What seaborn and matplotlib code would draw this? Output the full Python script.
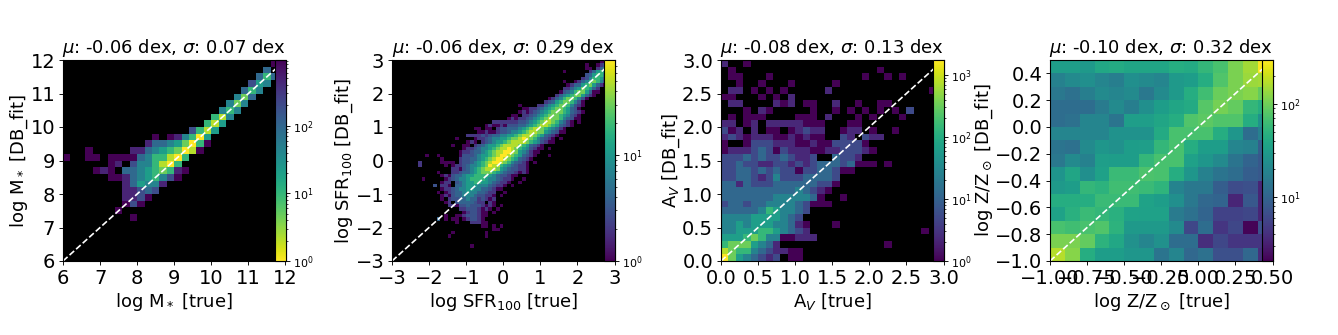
import pandas as pd
import matplotlib
matplotlib.use("Agg")
import matplotlib.pyplot as plt
import matplotlib.cm as cm
from matplotlib.colors import LogNorm
import seaborn as sns

# Cells: (row from bottom, first column, colour level per cell)
MASS_LEVELS = [1, 2, 5, 10, 21, 44, 95, 200, 430, 930]
MASS_CELLS = [
    (29, 28, "0"), (28, 27, "3"), (27, 26, "363"), (26, 25, "254"), (25, 24, "364"),
    (24, 23, "473"), (23, 22, "474"), (22, 21, "464"), (21, 20, "684"), (20, 19, "685"),
    (19, 17, "2685"), (18, 12, "0.014695"), (17, 11, "133457960"),
    (16, 3, "0.....1134567980"), (15, 0, "0..00.00003466896"),
    (14, 6, "01.2446896"), (13, 4, "010.334567610"), (12, 6, "0013456420"),
    (11, 8, "135441"), (10, 8, "11232"), (9, 8, "1120"), (8, 8, "020"),
    (7, 7, "0"), (6, 9, "0"),
]

SFR_LEVELS = [1, 2, 3, 4, 7, 11, 18, 30, 48, 79]
SFR_CELLS = [
    (59, 56, "00"), (58, 52, "0..012"), (57, 52, "00.134"), (56, 46, "0......13565"),
    (55, 52, "235664"), (54, 51, "1246653"), (53, 46, "0..013467642"),
    (52, 47, "01335675310"), (51, 46, "1134576531"), (50, 45, "02346775300"),
    (49, 44, "13456775310"), (48, 42, "01346776420"), (47, 41, "12356776420"),
    (46, 34, "0....1134567764210"), (45, 35, "0011234567765320"),
    (44, 34, "010123456777653210"), (43, 32, "00.1123456777654210"),
    (42, 31, "01011234567877643200"), (41, 27, "1111111223456788764310.0"),
    (40, 25, "010010222334567887653210"), (39, 22, "00.00.1223334567887654310"),
    (38, 23, "001001223445678877543200"), (37, 20, "1111212334455678887653210"),
    (36, 17, "0....0112344556778987643210.0"), (35, 20, "010.12345567888876542100"),
    (34, 16, "0..00.1234556788887653210"), (33, 19, "0112344567889876542100.0"),
    (32, 18, "0112334567889987543100"), (31, 9, "0..0.....0222345567899876532" + "10...0"),
    (30, 13, "0....1223345678998765321" + "0"), (29, 7, "1.....0000.1223456789987643210.0"),
    (28, 7, "1......0.011234456798865432110"), (27, 16, "110234567888754322110"),
    (26, 12, "0...112334567776543221010"), (25, 13, "010233455666654322100"),
    (24, 8, "0.....0123445666654432110..0"), (23, 13, "011.234556655432110..0"),
    (22, 11, "2.110.33455544432110.0"), (21, 13, "01123445544332100"),
    (20, 12, "0.01233454433211..0"), (19, 13, "010233444322110.0"),
    (18, 13, "0.1223343312101"), (17, 14, "01.23333211.10"),
    (16, 15, "1102232221010.0"), (15, 18, "112221010.0"), (14, 19, "0122100.0"),
    (13, 14, "0..001222100"), (12, 12, "3.0.00.012210"), (11, 17, "0...11100"),
    (10, 24, "00.0.0"), (9, 27, "00"), (8, 16, "0........0"), (7, 15, "0.........0"),
    (4, 21, "0"),
]

AV_LEVELS = [1, 2.3, 5.3, 12, 28, 63, 145, 330, 770, 1750]
AV_CELLS = [
    (29, 0, "1..0"), (28, 1, "0"), (28, 21, "0"), (27, 1, "00"), (27, 6, "0"), (27, 19, "0"),
    (27, 22, "0.0"), (26, 2, "0..0...0"), (26, 15, "0"), (25, 1, "11.0.0.0"), (25, 14, "1"),
    (25, 28, "0"), (24, 0, "00...0.0.1"), (23, 1, "11....101"), (23, 11, "00"), (23, 15, "1"),
    (23, 18, "0"), (23, 21, "00"), (22, 3, "0.10"), (22, 12, "0..0.0.0.0.0.2"),
    (21, 1, "0.000"), (21, 10, "000.1"), (21, 18, "0.0"), (21, 24, "0"),
    (20, 0, "11.01.11111000"), (20, 17, "00"),
    (19, 0, "201.1.00.01211"), (19, 16, "011.0"), (19, 23, "0"),
    (18, 0, "12101110010100"), (18, 16, "21.211"),
    (17, 0, "0..0222111001002222" + "0"), (16, 0, "011123202111001122210"),
    (15, 0, "2223232232112"), (15, 15, "3221"),
    (14, 0, "223221122121233323000.0"), (13, 0, "223323232202233200"),
    (12, 0, "2233212422233332"), (11, 0, "3313222333333220"),
    (10, 0, "333333333343210"), (9, 0, "33333334444430..0"),
    (8, 0, "233233444432000"), (7, 0, "333334654432"),
    (6, 0, "44445555432"), (5, 0, "445455544310...0"),
    (4, 0, "445556654321"), (4, 27, "0"), (3, 0, "5556764400111"),
    (2, 0, "67775431"), (2, 22, "0"), (1, 0, "87664321100"), (0, 0, "97543212.00"),
]

# log Z counts, top row first
ZMET_COUNTS = [
    [33, 33, 30, 40, 42, 38, 38, 38, 45, 42, 55, 70, 110, 150, 280],
    [18, 22, 24, 20, 17, 24, 22, 20, 30, 32, 45, 75, 110, 140, 150],
    [15, 13, 17, 22, 20, 22, 15, 22, 30, 45, 65, 95, 110, 120, 90],
    [12, 12, 12, 16, 22, 17, 24, 32, 38, 42, 80, 105, 90, 55, 45],
    [12, 13, 20, 20, 14, 33, 33, 38, 45, 75, 85, 75, 75, 45, 25],
    [20, 20, 20, 20, 26, 26, 26, 42, 70, 70, 70, 45, 28, 12, 18],
    [14, 13, 22, 28, 25, 32, 33, 55, 70, 45, 32, 32, 20, 18, 9],
    [15, 22, 18, 33, 32, 32, 55, 70, 70, 35, 28, 22, 14, 10, 8],
    [27, 38, 24, 35, 60, 60, 72, 70, 45, 28, 18, 14, 12, 9, 8],
    [30, 32, 55, 50, 65, 65, 60, 52, 19, 15, 15, 9, 6.5, 7, 3.5],
    [45, 45, 45, 60, 60, 60, 36, 32, 24, 15, 11, 10, 3.5, 8, 3.5],
    [36, 48, 60, 55, 48, 36, 35, 35, 16, 13, 10, 5.5, 5.5, 6, 3.5],
    [70, 65, 70, 75, 50, 30, 30, 30, 22, 6, 12, 4.5, 6, 2.2, 7],
    [110, 110, 90, 50, 40, 25, 20, 25, 12, 12, 4, 6, 4.5, 4.5, 4.5],
    [170, 120, 45, 32, 32, 28, 28, 14, 20, 11, 13, 7, 7, 11, 4],
]

TITLES = [
    r"$\mu$: -0.06 dex, $\sigma$: 0.07 dex",
    r"$\mu$: -0.06 dex, $\sigma$: 0.29 dex",
    r"$\mu$: -0.08 dex, $\sigma$: 0.13 dex",
    r"$\mu$: -0.10 dex, $\sigma$: 0.32 dex",
]
X_LABELS = [r"log M$_*$ [true]", r"log SFR$_{100}$ [true]", r"A$_V$ [true]", r"log Z/Z$_\odot$ [true]"]
Y_LABELS = [r"log M$_*$ [DB_fit]", r"log SFR$_{100}$ [DB_fit]", r"A$_V$ [DB_fit]", r"log Z/Z$_\odot$ [DB_fit]"]
MASS_TICKS = [6, 7, 8, 9, 10, 11, 12]
SFR_TICKS = [-3, -2, -1, 0, 1, 2, 3]
AV_TICKS = [0.0, 0.5, 1.0, 1.5, 2.0, 2.5, 3.0]
ZMET_XTICKS = [-1.0, -0.75, -0.5, -0.25, 0.0, 0.25, 0.5]
ZMET_YTICKS = [-1.0, -0.8, -0.6, -0.4, -0.2, 0.0, 0.2, 0.4]


def cells_to_frame(cells, levels, lo, step):
    rows = []
    for row, first, codes in cells:
        for i, code in enumerate(codes):
            if code != ".":
                rows.append({
                    "true": lo + (first + i + 0.5) * step,
                    "fit": lo + (row + 0.5) * step,
                    "count": levels[int(code)],
                })
    return pd.DataFrame(rows)


def counts_to_frame(counts, lo, step):
    rows = []
    for r, line in enumerate(counts):
        for c, val in enumerate(line):
            rows.append({
                "true": lo + (c + 0.5) * step,
                "fit": lo + (len(counts) - 1 - r + 0.5) * step,
                "count": val,
            })
    return pd.DataFrame(rows)


panels = [
    dict(df=cells_to_frame(MASS_CELLS, MASS_LEVELS, 6, 0.2), lims=(6, 12), bins=30,
         norm=(1, 930), bar_cmap="viridis_r", xticks=MASS_TICKS, yticks=MASS_TICKS, left=63),
    dict(df=cells_to_frame(SFR_CELLS, SFR_LEVELS, -3, 0.1), lims=(-3, 3), bins=60,
         norm=(1, 79), bar_cmap="viridis", xticks=SFR_TICKS, yticks=SFR_TICKS, left=392),
    dict(df=cells_to_frame(AV_CELLS, AV_LEVELS, 0, 0.1), lims=(0, 3), bins=30,
         norm=(1, 1750), bar_cmap="viridis", xticks=AV_TICKS, yticks=AV_TICKS, left=721),
    dict(df=counts_to_frame(ZMET_COUNTS, -1, 0.1), lims=(-1, 0.5), bins=15,
         norm=(2.08, 296), bar_cmap="viridis", xticks=ZMET_XTICKS, yticks=ZMET_YTICKS, left=1050),
]

W, H = 1338, 335
fig = plt.figure(figsize=(W / 100, H / 100), dpi=100)
plt.rcParams["axes.linewidth"] = 0.8

for i, p in enumerate(panels):
    ax = fig.add_axes([p["left"] / W, 1 - 261 / H, 222.5 / W, 201 / H])
    ax.set_facecolor("black")
    lo, hi = p["lims"]
    sns.histplot(
        data=p["df"], x="true", y="fit", weights="count",
        bins=p["bins"], binrange=(p["lims"], p["lims"]),
        cmap="viridis", ax=ax,
    )
    norm = LogNorm(*p["norm"])
    ax.collections[0].set_norm(norm)
    ax.plot([lo, hi], [lo, hi], color="white", linestyle="--", linewidth=1.2)
    ax.set_xlim(lo, hi)
    ax.set_ylim(lo, hi)
    ax.set_xticks(p["xticks"])
    ax.set_yticks(p["yticks"])
    ax.tick_params(labelsize=14, length=2.8, width=0.65, pad=2.8)
    ax.set_xlabel(X_LABELS[i], fontsize=13, labelpad=2.2)
    ax.set_ylabel(Y_LABELS[i], fontsize=13, labelpad=0.2)
    ax.set_title(TITLES[i], fontsize=13, pad=4.8)

    cax = ax.inset_axes([0.955, 0, 0.045, 1])
    fig.colorbar(cm.ScalarMappable(norm=norm, cmap=p["bar_cmap"]), cax=cax)
    cax.tick_params(labelsize=8, length=2.8, width=0.65, pad=2.8)
    cax.tick_params(which="minor", length=1.6, width=0.5)

fig.savefig("out.png", dpi=100)
